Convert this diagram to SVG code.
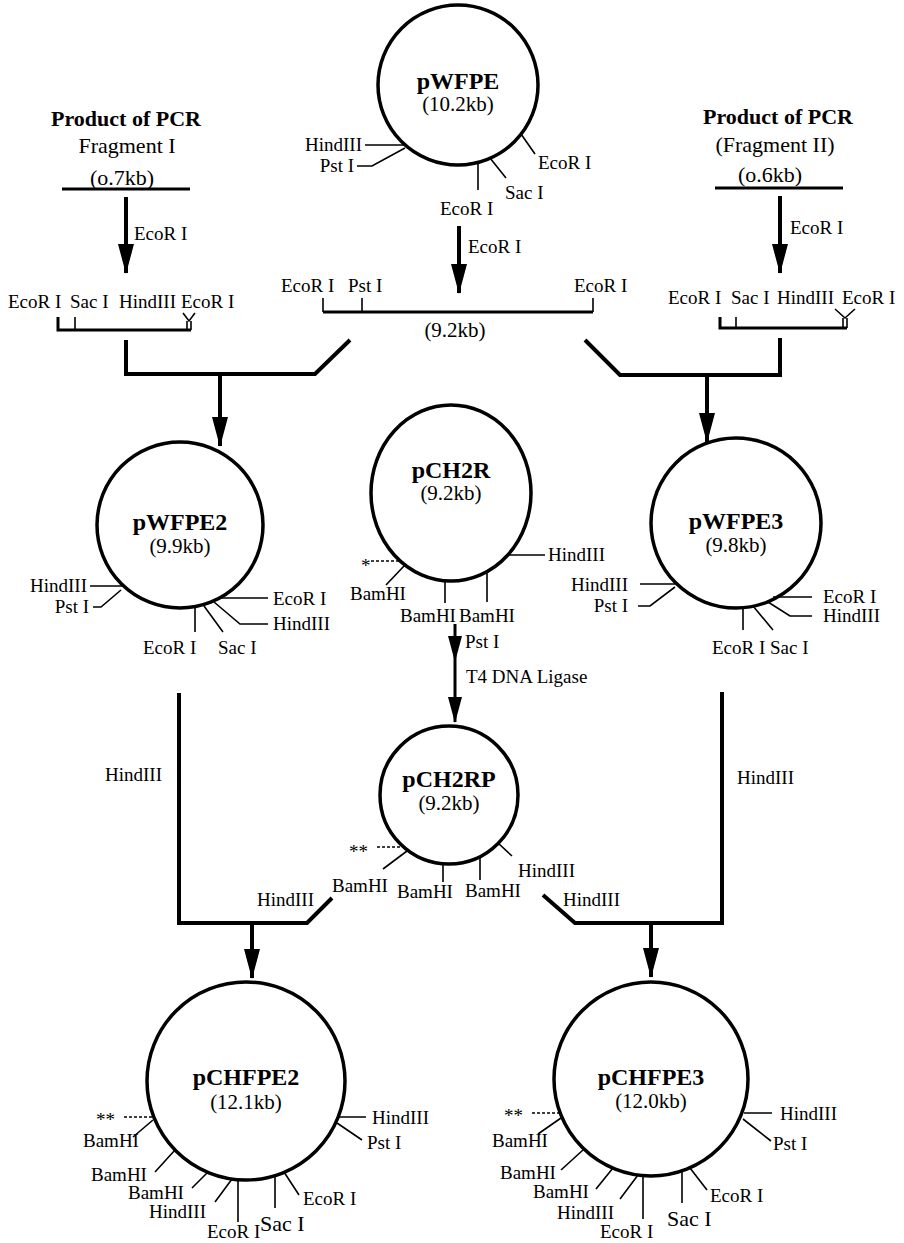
<svg xmlns="http://www.w3.org/2000/svg" width="904" height="1243" viewBox="0 0 904 1243">
<defs>
<style>
text{font-family:"Liberation Serif","Times New Roman",serif;fill:#000}
.l{font-size:19px}
.e{text-anchor:end}
.n{font-size:24px;font-weight:bold;text-anchor:middle}
.s{font-size:21px;text-anchor:middle}
.h{font-size:22px;font-weight:bold;text-anchor:middle}
.f{font-size:22px;text-anchor:middle}
.b{font-size:22px}
.c{fill:#fff;stroke:#000;stroke-width:3.5}
.t{fill:none;stroke:#000;stroke-width:1.6}
.d{fill:none;stroke:#000;stroke-width:1.3;stroke-dasharray:3 2}
.k{fill:none;stroke:#000;stroke-width:4;stroke-linejoin:miter}
.a{fill:none;stroke:#000;stroke-width:4;marker-end:url(#ah)}
.as{fill:none;stroke:#000;stroke-width:3;marker-end:url(#am)}
.fr{fill:none;stroke:#000;stroke-width:3}
</style>
<marker id="ah" markerUnits="userSpaceOnUse" viewBox="0 0 30 16" refX="29" refY="8" markerWidth="30" markerHeight="16" orient="auto"><path d="M0,0 L30,8 L0,16 Z"/></marker>
<marker id="am" markerUnits="userSpaceOnUse" viewBox="0 0 26 14" refX="25" refY="7" markerWidth="26" markerHeight="14" orient="auto"><path d="M0,0 L26,7 L0,14 Z"/></marker>
</defs>
<rect width="904" height="1243" fill="#fff"/>

<g id="connectors">
<path class="a" d="M126,197 V273"/>
<path class="a" d="M459,226 V293"/>
<path class="a" d="M780,196 V273"/>
<path class="k" d="M126,340 V374 H315 L350,340"/>
<path class="a" d="M220,374 V446"/>
<path class="k" d="M780,338 V375 H620 L585,340"/>
<path class="a" d="M707,375 V442"/>
<path class="as" d="M455,624 V661"/>
<path class="as" d="M455,661 V722"/>
<path class="k" d="M179,693 V923 H307 L332,898"/>
<path class="a" d="M252,923 V978"/>
<path class="k" d="M722,692 V923 H575 L543,895"/>
<path class="a" d="M651,923 V977"/>
<text class="l" x="134" y="240">EcoR I</text>
<text class="l" x="468" y="253">EcoR I</text>
<text class="l" x="790" y="234">EcoR I</text>
<text class="l" x="465" y="648">Pst I</text>
<text class="l" x="466" y="683">T4  DNA Ligase</text>
<text class="l" x="105" y="781">HindIII</text>
<text class="l" x="257" y="906">HindIII</text>
<text class="l" x="737" y="784">HindIII</text>
<text class="l" x="563" y="906">HindIII</text>
</g>

<g id="pcr1">
<text class="h" x="126" y="126">Product of PCR</text>
<text class="f" x="127" y="153">Fragment I</text>
<text class="f" x="122" y="185">(o.7kb)</text>
<line class="fr" x1="62" y1="189" x2="190" y2="189" stroke-width="2.5"/>
</g>

<g id="frag1">
<text class="l" x="8" y="308">EcoR I</text>
<text class="l" x="70" y="308">Sac I</text>
<text class="l" x="119" y="308">HindIII</text>
<text class="l" x="181" y="308">EcoR I</text>
<path class="fr" d="M58,317 V330 H191"/>
<path class="t" d="M75,317 V330 M183,313 L189,321 L195,313 M187,321 V330 M191,321 V330"/>
</g>

<g id="pWFPE">
<circle class="c" cx="458" cy="85" r="80"/>
<text class="n" x="458" y="89">pWFPE</text>
<text class="s" x="458" y="111">(10.2kb)</text>
<path class="t" d="M365,145 H405 M357,166 H372 L405,148 M478,162 V190 M490,158 L506,178 M521,134 L535,154"/>
<text class="l e" x="362" y="151">HindIII</text>
<text class="l e" x="354" y="172">Pst I</text>
<text class="l" x="440" y="215">EcoR I</text>
<text class="l" x="505" y="199">Sac I</text>
<text class="l" x="538" y="169">EcoR I</text>
</g>

<g id="frag92">
<path class="fr" d="M323,312 H593"/>
<path class="t" d="M323,298 V312 M362,298 V312 M593,298 V312"/>
<text class="l" x="281" y="292">EcoR I</text>
<text class="l" x="348" y="292">Pst I</text>
<text class="l" x="574" y="292">EcoR I</text>
<text class="s" x="455" y="337">(9.2kb)</text>
</g>

<g id="pcr2">
<text class="h" x="778" y="124">Product of PCR</text>
<text class="f" x="775" y="152">(Fragment  II)</text>
<text class="f" x="770" y="182">(o.6kb)</text>
<line class="fr" x1="715" y1="188" x2="843" y2="188" stroke-width="2.5"/>
</g>

<g id="frag2">
<text class="l" x="668" y="304">EcoR I</text>
<text class="l" x="731" y="304">Sac I</text>
<text class="l" x="777" y="304">HindIII</text>
<text class="l" x="842" y="304">EcoR I</text>
<path class="fr" d="M720,317 V328 H847"/>
<path class="t" d="M736,317 V328 M835,309 L845,318 L855,309 M843,318 V328 M847,318 V328"/>
</g>

<g id="pWFPE2">
<circle class="c" cx="180" cy="525" r="83"/>
<text class="n" x="180" y="530">pWFPE2</text>
<text class="s" x="180" y="553">(9.9kb)</text>
<path class="t" d="M90,586 H123 M93,607 H101 L121,590 M195,607 V632 M204,606 L223,632 M221,598 H268 M214,602 L240,624 H268"/>
<text class="l e" x="87" y="592">HindIII</text>
<text class="l e" x="89" y="613">Pst I</text>
<text class="l" x="143" y="654">EcoR I</text>
<text class="l" x="218" y="654">Sac I</text>
<text class="l" x="273" y="605">EcoR I</text>
<text class="l" x="273" y="630">HindIII</text>
</g>

<g id="pCH2R">
<ellipse class="c" cx="451" cy="493" rx="80" ry="88"/>
<text class="n" x="451" y="478">pCH2R</text>
<text class="s" x="451" y="500">(9.2kb)</text>
<path class="d" d="M371,561 H401"/>
<path class="t" d="M404,566 L386,585 M445,581 V603 M487,573 V602 M508,555 H545"/>
<text class="l" x="361" y="572">*</text>
<text class="l" x="350" y="600">BamHI</text>
<text class="l" x="400" y="622">BamHI</text>
<text class="l" x="459" y="622">BamHI</text>
<text class="l" x="548" y="561">HindIII</text>
</g>

<g id="pWFPE3">
<circle class="c" cx="736" cy="523" r="85"/>
<text class="n" x="736" y="529">pWFPE3</text>
<text class="s" x="736" y="552">(9.8kb)</text>
<path class="t" d="M640,584 H675 M638,606 H650 L675,587 M773,597 H812 M768,602 L790,616 H812 M743,607 V630 M753,606 L773,630"/>
<text class="l e" x="628" y="591">HindIII</text>
<text class="l e" x="628" y="612">Pst I</text>
<text class="l" x="823" y="603">EcoR I</text>
<text class="l" x="823" y="622">HindIII</text>
<text class="l" x="712" y="654">EcoR I</text>
<text class="l" x="770" y="654">Sac I</text>
</g>

<g id="pCH2RP">
<circle class="c" cx="449" cy="795" r="69"/>
<text class="n" x="449" y="787">pCH2RP</text>
<text class="s" x="449" y="810">(9.2kb)</text>
<path class="d" d="M377,847 H405"/>
<path class="t" d="M407,851 L383,869 M443,864 V882 M480,857 V880 M498,843 L512,856"/>
<text class="l" x="349" y="858">**</text>
<text class="l" x="332" y="892">BamHI</text>
<text class="l" x="397" y="898">BamHI</text>
<text class="l" x="465" y="897">BamHI</text>
<text class="l" x="518" y="877">HindIII</text>
</g>

<g id="pCHFPE2">
<circle class="c" cx="246" cy="1081" r="99"/>
<text class="n" x="246" y="1085">pCHFPE2</text>
<text class="s" x="246" y="1109">(12.1kb)</text>
<path class="d" d="M124,1117 H153"/>
<path class="t" d="M153,1120 L133,1137 M175,1150 L155,1172 M208,1172 L192,1188 M232,1179 L215,1202 M238,1180 V1222 M275,1176 V1208 M284,1172 L299,1195 M338,1117 H366 M337,1123 L362,1140"/>
<text class="l" x="96" y="1126">**</text>
<text class="l" x="83" y="1147">BamHI</text>
<text class="l" x="91" y="1181">BamHI</text>
<text class="l" x="128" y="1199">BamHI</text>
<text class="l" x="149" y="1218">HindIII</text>
<text class="l" x="207" y="1238">EcoR I</text>
<text class="b" x="260" y="1231">Sac I</text>
<text class="l" x="303" y="1205">EcoR I</text>
<text class="l" x="372" y="1124">HindIII</text>
<text class="l" x="367" y="1149">Pst I</text>
</g>

<g id="pCHFPE3">
<circle class="c" cx="651" cy="1079" r="97"/>
<text class="n" x="651" y="1085">pCHFPE3</text>
<text class="s" x="651" y="1108">(12.0kb)</text>
<path class="d" d="M532,1113 H560"/>
<path class="t" d="M561,1118 L538,1134 M583,1150 L561,1170 M613,1168 L596,1189 M638,1175 L620,1199 M643,1176 V1219 M682,1172 V1203 M690,1168 L707,1190 M744,1113 H772 M743,1119 L771,1141"/>
<text class="l" x="504" y="1122">**</text>
<text class="l" x="492" y="1147">BamHI</text>
<text class="l" x="500" y="1179">BamHI</text>
<text class="l" x="533" y="1198">BamHI</text>
<text class="l" x="557" y="1219">HindIII</text>
<text class="l" x="600" y="1238">EcoR I</text>
<text class="b" x="667" y="1226">Sac I</text>
<text class="l" x="710" y="1202">EcoR I</text>
<text class="l" x="780" y="1120">HindIII</text>
<text class="l" x="773" y="1150">Pst I</text>
</g>
</svg>
